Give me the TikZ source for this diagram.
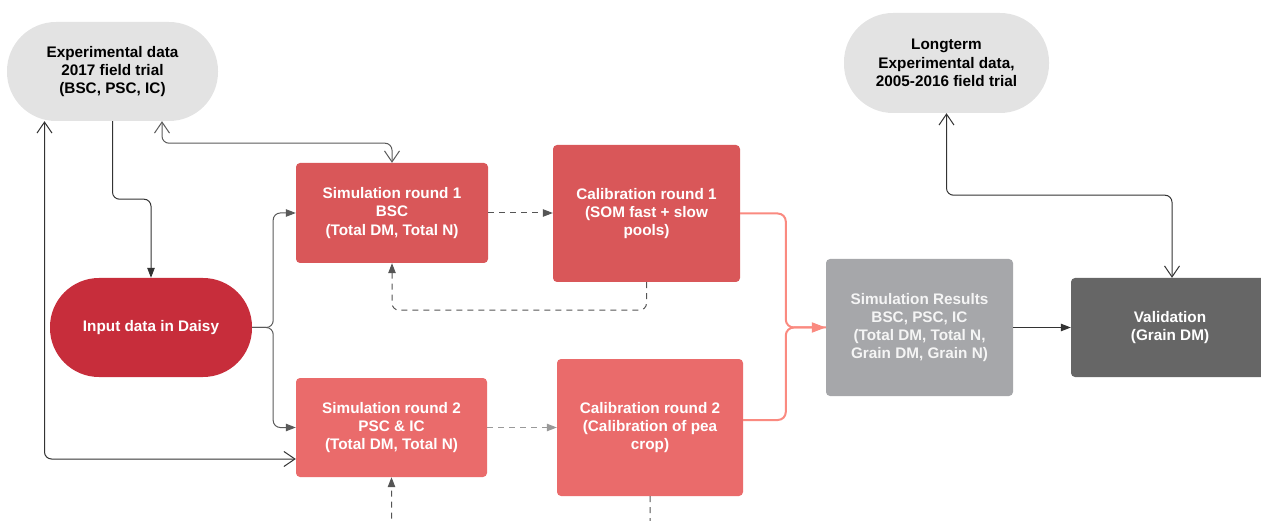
\documentclass[tikz,border=0pt]{standalone}
\usepackage{fontspec}
\setmainfont{Liberation Sans}
\usetikzlibrary{arrows.meta}
\definecolor{lightbox}{HTML}{E3E3E3}
\definecolor{redA}{HTML}{D95759}
\definecolor{redB}{HTML}{C72D3B}
\definecolor{redC}{HTML}{EA6B6B}
\definecolor{resgray}{HTML}{A6A7AA}
\definecolor{valgray}{HTML}{666666}
\definecolor{pinkline}{HTML}{FA8A80}
\definecolor{darkline}{HTML}{333333}
\definecolor{midline}{HTML}{5A5A5A}
\definecolor{dashA}{HTML}{555555}
\definecolor{dashB}{HTML}{999999}
\tikzset{
  boxtext/.style={font=\fontsize{15.3}{18.3}\selectfont\bfseries, align=center, inner sep=0pt},
  stadium/.style={boxtext, fill=lightbox, text=black, rounded corners=49pt},
  redbox/.style={boxtext, text=white, rounded corners=4pt},
  solidcon/.style={draw=darkline, line width=1pt, rounded corners=7pt},
  filltip/.style={-{Triangle[length=10pt,width=7.5pt]}},
  opentips/.style={{Straight Barb[length=11pt,width=15pt]}-{Straight Barb[length=11pt,width=15pt]}},
  dashcon/.style={line width=1pt, dash pattern=on 6pt off 5pt, rounded corners=7pt, -{Triangle[length=10pt,width=7.5pt]}},
  pinkcon/.style={draw=pinkline, line width=2pt, rounded corners=8pt}
}
\begin{document}
\begin{tikzpicture}[x=1pt,y=-1pt]
\useasboundingbox (0,0) rectangle (1261,521);
\clip (0,0) rectangle (1261,521);

% nodes
\node[stadium, minimum width=211pt, minimum height=99pt] (exp) at (112.5,71.5)
  {Experimental data\\2017 field trial\\(BSC, PSC, IC)};
\node[stadium, minimum width=205pt, minimum height=100pt] (long) at (946.5,63)
  {Longterm\\Experimental data,\\2005-2016 field trial};
\node[boxtext, fill=redB, text=white, rounded corners=49pt, minimum width=202pt, minimum height=99pt] (input) at (151,327.5)
  {Input data in Daisy};
\node[redbox, fill=redA, minimum width=192pt, minimum height=100pt] (sim1) at (392,213)
  {Simulation round 1\\BSC\\(Total DM, Total N)};
\node[redbox, fill=redA, minimum width=187pt, minimum height=137pt] (cal1) at (646.5,213.5)
  {Calibration round 1\\(SOM fast + slow\\pools)};
\node[redbox, fill=redC, minimum width=191pt, minimum height=99pt] (sim2) at (391.5,427.5)
  {Simulation round 2\\PSC \& IC\\(Total DM, Total N)};
\node[redbox, fill=redC, minimum width=186pt, minimum height=137pt] (cal2) at (650,427.5)
  {Calibration round 2\\(Calibration of pea\\crop)};
\node[redbox, fill=resgray, text=white!96!black, minimum width=187pt, minimum height=137pt] (res) at (919.5,327.5)
  {Simulation Results\\BSC, PSC, IC\\(Total DM, Total N,\\Grain DM, Grain N)};
\node[redbox, fill=valgray, minimum width=202pt, minimum height=99pt] (val) at (1172,327.5)
  {\hspace*{-4pt}Validation\\\hspace*{-4pt}(Grain DM)};

% connectors
\draw[solidcon, filltip] (exp.south) -- ++(0,78) -| (input.north);
\draw[solidcon, draw=midline, opentips] ([xshift=49.5pt]exp.south) -- ++(0,22) -| (sim1.north);
\draw[solidcon, opentips] ([xshift=-68pt]exp.south) |- ([yshift=-31.5pt]sim2.west);
\draw[solidcon, draw=midline, filltip] (input.east) -- ++(21,0) |- (sim1.west);
\draw[solidcon, draw=midline, filltip] (input.east) -- ++(21,0) |- (sim2.west);
\draw[dashcon, draw=dashA] (sim1.east) -- (sim1.east -| cal1.west);
\draw[dashcon, draw=dashA] (cal1.south) -- ++(0,28) -| (sim1.south);
\draw[dashcon, draw=dashB] (sim2.east) -- (sim2.east -| cal2.west);
\draw[dashcon, draw=dashA] (cal2.south) -- ++(0,50) -| (sim2.south);
\draw[pinkcon] (cal1.east) -| ([xshift=-40pt]res.west) -- (res.west);
\draw[pinkcon, -{Triangle[length=14pt,width=10pt]}] ([yshift=7.5pt]cal2.east) -| ([xshift=-40pt]res.west) -- (res.west);
\draw[solidcon, filltip] (res.east) -- (val.west);
\draw[solidcon, opentips] (long.south) -- ++(0,82) -| (val.north);
\end{tikzpicture}
\end{document}
